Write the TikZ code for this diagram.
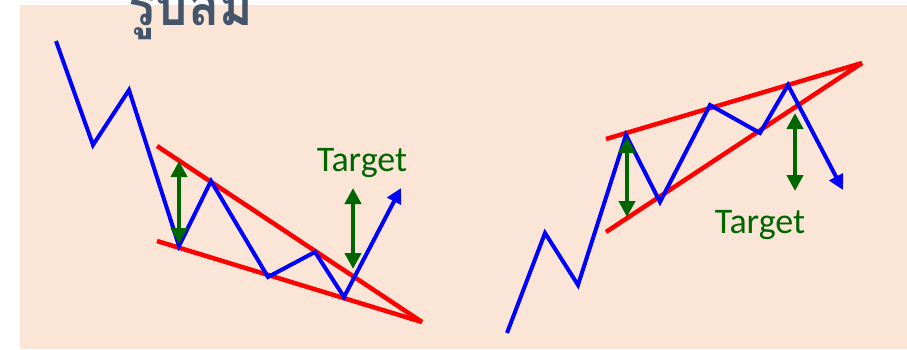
\documentclass[tikz,border=0pt]{standalone}
\usepackage{fontspec}
\setmainfont{Carlito}
\newfontfamily\thaifont[Script=Thai]{Loma}
\usetikzlibrary{arrows.meta}
\definecolor{bgpeach}{HTML}{FBE5D6}
\definecolor{titlegray}{HTML}{44546A}
\definecolor{tgtgreen}{HTML}{006600}
\tikzset{
  price/.style={draw=blue, line width=4pt, line join=miter},
  trend/.style={draw=red, line width=4.5pt},
  target/.style={draw=tgtgreen, line width=4pt, {Triangle[length=16pt,width=16pt]}-{Triangle[length=16pt,width=16pt]}},
  tgtlabel/.style={text=tgtgreen, font=\fontsize{36}{40}\selectfont, inner sep=0pt},
  pricearrow/.style={price, -{Triangle[length=15pt,width=15pt]}}
}
\begin{document}
\begin{tikzpicture}[x=1pt,y=-1pt]
\useasboundingbox (0,0) rectangle (907,349);
\clip (0,0) rectangle (907,349);
\fill[bgpeach] (20,5) rectangle (907,349);
\node[anchor=base west, text=titlegray, inner sep=0pt, font=\thaifont\bfseries\fontsize{58}{64}\selectfont] (title) at (128,25) {\scalebox{0.88}[1]{รูปลิ่ม}};
% left falling wedge
\coordinate (a0) at (56,41);
\coordinate (a1) at (93,145);
\coordinate (a2) at (129,90);
\coordinate (a3) at (179,246);
\coordinate (a4) at (211,181);
\coordinate (a5) at (268,277);
\coordinate (a6) at (315,252);
\coordinate (a7) at (344,297);
\coordinate (a8) at (401,188);
\coordinate (lu) at (157,146);
\coordinate (ll) at (157,241);
\coordinate (lapex) at (422,322);
\draw[trend] (lu) -- (lapex);
\draw[trend] (ll) -- (lapex);
\draw[pricearrow] (a0) -- (a1) -- (a2) -- (a3) -- (a4) -- (a5) -- (a6) -- (a7) -- (a8);
\coordinate (t1a) at (179,161);
\coordinate (t1b) at (179,244);
\draw[target] (t1a) -- (t1b);
\coordinate (t2a) at (353,188);
\coordinate (t2b) at (353,269);
\draw[target] (t2a) -- (t2b);
\node[tgtlabel] (lt) at (362,163) {Target};
% right rising wedge
\coordinate (b0) at (507,333);
\coordinate (b1) at (545,233);
\coordinate (b2) at (578,285);
\coordinate (b3) at (626,135);
\coordinate (b4) at (660,202);
\coordinate (b5) at (710,105);
\coordinate (b6) at (760,133);
\coordinate (b7) at (788,85);
\coordinate (b8) at (843,190);
\coordinate (ru) at (606,139);
\coordinate (rl) at (606,232);
\coordinate (rapex) at (862,63);
\draw[trend] (ru) -- (rapex);
\draw[trend] (rl) -- (rapex);
\draw[pricearrow] (b0) -- (b1) -- (b2) -- (b3) -- (b4) -- (b5) -- (b6) -- (b7) -- (b8);
\coordinate (t3a) at (627,137);
\coordinate (t3b) at (627,217);
\draw[target] (t3a) -- (t3b);
\coordinate (t4a) at (795,113);
\coordinate (t4b) at (795,191);
\draw[target] (t4a) -- (t4b);
\node[tgtlabel] (rt) at (760,225) {Target};
\end{tikzpicture}
\end{document}
